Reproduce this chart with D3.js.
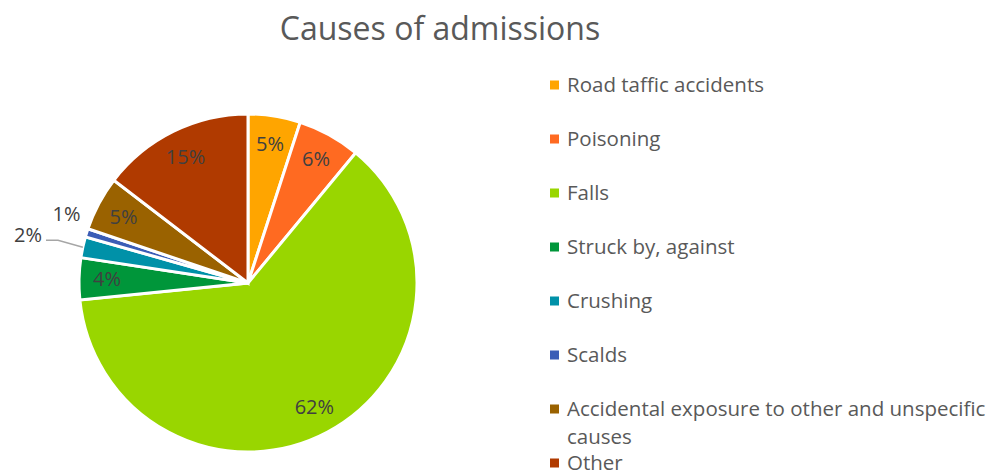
<!DOCTYPE html>
<html>
<head>
<meta charset="utf-8">
<script src="https://cdn.jsdelivr.net/npm/d3@7"></script>
<style>
  body { margin: 0; background: #fff; }
  svg text { font-family: "Open Sans", sans-serif; }
</style>
</head>
<body>
<svg id="chart" width="997" height="475"></svg>
<script>
// DATA
var categories = ["Road taffic accidents", "Poisoning", "Falls", "Struck by, against",
  "Crushing", "Scalds", "Accidental exposure to other and unspecific causes", "Other"];
var values = [5, 6, 62.4, 4, 2, 0.8, 5.2, 14.6];
var colors = ["#ffa500", "#ff6a21", "#99d600", "#00963a", "#0091a8", "#3b5db6", "#9a6200", "#b03a00"];

var width = 997, height = 475;
var cx = 248, cy = 283, radius = 169;

var svg = d3.select("#chart");

// TITLE
svg.append("text")
  .attr("x", 440)
  .attr("y", 40)
  .attr("text-anchor", "middle")
  .style("font-size", "32px")
  .style("fill", "#595959")
  .text("Causes of admissions");

var data = categories.map(function(c, i) { return {name: c, value: values[i], color: colors[i]}; });
var total = d3.sum(values);
var fmt = function(v) { return Math.round(v / total * 100) + "%"; };

var pie = d3.pie().sort(null).value(function(d) { return d.value; });
var arc = d3.arc().innerRadius(0).outerRadius(radius);
var labelArc = d3.arc().innerRadius(141).outerRadius(141);

var g = svg.append("g").attr("transform", "translate(" + cx + "," + cy + ")");
var arcs = pie(data);

g.selectAll("path.slice")
  .data(arcs)
  .enter()
  .append("path")
  .attr("class", "slice")
  .attr("d", arc)
  .style("fill", function(d) { return d.data.color; })
  .style("stroke", "#fff")
  .style("stroke-width", 3);

// inside labels for big slices
g.selectAll("text.inlabel")
  .data(arcs.filter(function(d) { return d.data.value >= 3; }))
  .enter()
  .append("text")
  .attr("class", "inlabel")
  .attr("transform", function(d) { return "translate(" + labelArc.centroid(d) + ")"; })
  .attr("text-anchor", "middle")
  .attr("dy", "0.35em")
  .style("font-size", "20px")
  .style("fill", "#404040")
  .text(function(d) { return fmt(d.data.value); });

// outside labels for small slices
var small = arcs.filter(function(d) { return d.data.value < 3; });
small.forEach(function(d, i) {
  var mid = (d.startAngle + d.endAngle) / 2;
  var px = Math.sin(mid) * radius, py = -Math.cos(mid) * radius;
  if (d.data.value < 1.5) {
    // close to slice, no leader
    var r = 190;
    g.append("text")
      .attr("x", Math.sin(mid) * r)
      .attr("y", -Math.cos(mid) * r - 13)
      .attr("text-anchor", "middle")
      .attr("dy", "0.35em")
      .style("font-size", "20px")
      .style("fill", "#404040")
      .text(fmt(d.data.value));
  } else {
    // pushed out with a leader line
    var ex = -190, ey = py - 7;
    g.append("polyline")
      .attr("points", [[px, py], [ex, ey], [ex - 12, ey]].join(" "))
      .style("fill", "none")
      .style("stroke", "#a6a6a6")
      .style("stroke-width", 1.5);
    g.append("text")
      .attr("x", ex - 16)
      .attr("y", ey - 5)
      .attr("text-anchor", "end")
      .attr("dy", "0.35em")
      .style("font-size", "20px")
      .style("fill", "#404040")
      .text(fmt(d.data.value));
  }
});

// LEGEND
var legendX = 550, legendY = 85, rowH = 54, lineH = 28;
var legend = svg.append("g").attr("class", "legend");
data.forEach(function(d, i) {
  var item = legend.append("g").attr("transform", "translate(" + legendX + "," + (legendY + i * rowH) + ")");
  item.append("rect")
    .attr("x", 0).attr("y", -4.5)
    .attr("width", 9).attr("height", 9)
    .style("fill", d.color);
  var t = item.append("text")
    .attr("x", 17)
    .attr("y", 0)
    .attr("dy", "0.35em")
    .style("font-size", "20.5px")
    .style("fill", "#595959");
  if (d.name.length > 40) {
    var words = d.name.split(" ");
    t.append("tspan").attr("x", 17).text(words.slice(0, -1).join(" "));
    t.append("tspan").attr("x", 17).attr("dy", lineH).text(words[words.length - 1]);
  } else {
    t.text(d.name);
  }
});
</script>
</body>
</html>
